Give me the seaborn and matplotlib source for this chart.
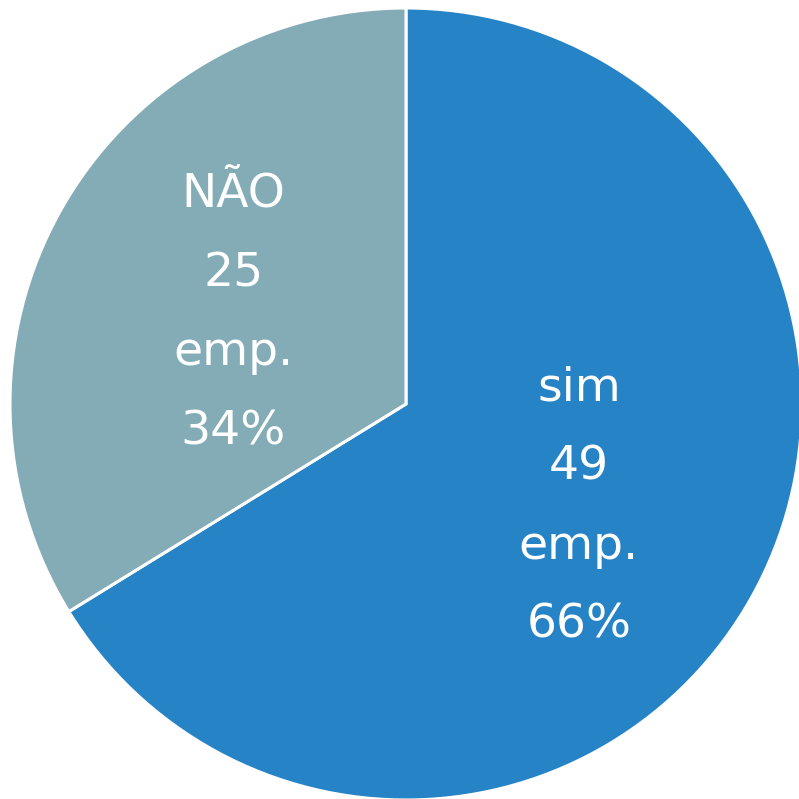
import matplotlib
matplotlib.use("Agg")
import matplotlib.pyplot as plt
import seaborn as sns

sns.set_theme(style="white")
plt.rcParams['font.family'] = ['DejaVu Sans']

categories = ["sim", "NÃO"]
counts = [49, 25]
percents = [66, 34]
colors = ["#2683C6", "#84ACB6"]

fig = plt.figure(figsize=(7.99, 7.99), dpi=100)
ax = fig.add_axes([0, 0, 1, 1])

labels = [f"{c}\n{n}\nemp.\n{p}%" for c, n, p in zip(categories, counts, percents)]

wedges, texts = ax.pie(
    counts,
    colors=colors,
    startangle=90,
    counterclock=False,
    radius=1.0,
    labels=labels,
    labeldistance=0.50,
    wedgeprops=dict(edgecolor="white", linewidth=2.2),
    textprops=dict(color="white", fontsize=34, ha="center", va="center",
                   linespacing=1.97),
)

# nudge the label blocks slightly downward
for t in texts:
    x, y = t.get_position()
    t.set_position((x, y - 6 / 396))

ax.set_xlim(-406 / 396, (799 - 406) / 396)
ax.set_ylim(-395 / 396, 404 / 396)
ax.set_aspect("equal")
ax.axis("off")

fig.savefig("out.png", dpi=100)
